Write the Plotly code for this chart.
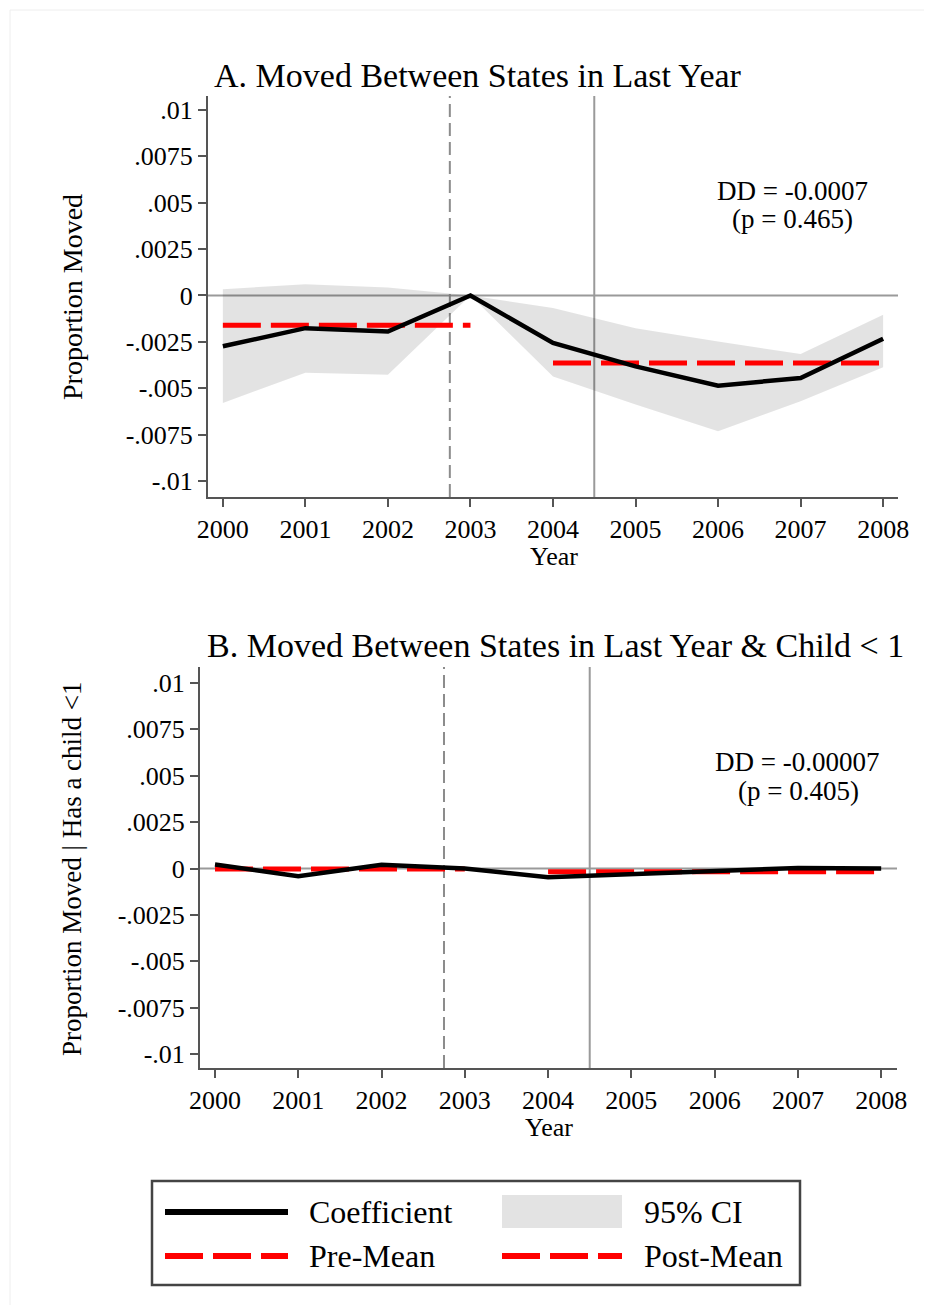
import plotly.graph_objects as go

# the page body adds an 8px margin around the figure, so the figure is made
# 16px smaller and every reference pixel position is shifted by that margin
PAGE_W, PAGE_H, BODY = 932, 1313, 8
W, H = PAGE_W - 2 * BODY, PAGE_H - 2 * BODY
FONT = "Liberation Serif"

years = [2000, 2001, 2002, 2003, 2004, 2005, 2006, 2007, 2008]
y_ticks = [0.01, 0.0075, 0.005, 0.0025, 0, -0.0025, -0.005, -0.0075, -0.01]
y_tick_labels = [".01", ".0075", ".005", ".0025", "0", "-.0025", "-.005", "-.0075", "-.01"]

# Panel A - moved between states
coef_a = [-0.00274, -0.00176, -0.00194, 0.0, -0.00256, -0.00382, -0.00486, -0.00445, -0.00233]
ci_hi_a = [0.00034, 0.00061, 0.00043, 0.0, -0.00068, -0.00176, -0.00248, -0.00316, -0.00104]
ci_lo_a = [-0.00579, -0.00417, -0.00427, 0.0, -0.00436, -0.00588, -0.00732, -0.00570, -0.00387]
pre_mean_a = -0.00161
post_mean_a = -0.00364
dd_a = "DD = -0.0007"
p_a = "(p = 0.465)"

# Panel B - moved between states & child < 1
coef_b = [0.00022, -0.00041, 0.00020, 0.0, -0.00047, -0.00029, -0.00011, 0.00003, 0.0]
ci_hi_b = [0.00027, -0.00036, 0.00025, 0.0, -0.00042, -0.00024, -0.00006, 0.00008, 0.00005]
ci_lo_b = [0.00017, -0.00046, 0.00015, 0.0, -0.00052, -0.00034, -0.00016, -0.00002, -0.00005]
pre_mean_b = -0.00003
post_mean_b = -0.00018
dd_b = "DD = -0.00007"
p_b = "(p = 0.405)"

pre_years = [2000, 2003]
post_years = [2004, 2008]
announce_year = 2002.75
policy_year = 2004.5

RED_DASH = "38px,10px"


def px_x(v):
    return (v - BODY) / W


def px_y(v):
    return 1 - (v - BODY) / H


def add_panel(fig, n, coef, ci_hi, ci_lo, pre_mean, post_mean):
    xa, ya = ("x", "y") if n == 1 else ("x2", "y2")
    # 95% CI band
    fig.add_trace(go.Scatter(
        x=years + years[::-1], y=ci_hi + ci_lo[::-1],
        fill="toself", fillcolor="rgba(0,0,0,0.11)", line=dict(width=0),
        mode="lines", xaxis=xa, yaxis=ya, showlegend=False, hoverinfo="skip"))
    # pre / post means
    fig.add_trace(go.Scatter(
        x=pre_years, y=[pre_mean, pre_mean], mode="lines",
        line=dict(color="#ff0000", width=5, dash=RED_DASH),
        xaxis=xa, yaxis=ya, showlegend=False))
    fig.add_trace(go.Scatter(
        x=post_years, y=[post_mean, post_mean], mode="lines",
        line=dict(color="#ff0000", width=5, dash=RED_DASH),
        xaxis=xa, yaxis=ya, showlegend=False))
    # coefficient
    fig.add_trace(go.Scatter(
        x=years, y=coef, mode="lines",
        line=dict(color="black", width=4.5),
        xaxis=xa, yaxis=ya, showlegend=False))
    # zero line and event lines
    fig.add_shape(type="line", xref=xa + " domain", yref=ya, x0=0, x1=1, y0=0, y1=0,
                  line=dict(color="#9a9a9a", width=2), layer="below")
    fig.add_shape(type="line", xref=xa, yref=ya + " domain", x0=announce_year, x1=announce_year,
                  y0=0, y1=1, line=dict(color="#8c8c8c", width=2, dash="13px,6px"), layer="below")
    fig.add_shape(type="line", xref=xa, yref=ya + " domain", x0=policy_year, x1=policy_year,
                  y0=0, y1=1, line=dict(color="#9a9a9a", width=2), layer="below")


fig = go.Figure()
add_panel(fig, 1, coef_a, ci_hi_a, ci_lo_a, pre_mean_a, post_mean_a)
add_panel(fig, 2, coef_b, ci_hi_b, ci_lo_b, pre_mean_b, post_mean_b)

axis_common = dict(showline=True, linecolor="#555555", linewidth=2, ticks="outside",
                   ticklen=8, tickwidth=2, tickcolor="#555555", showgrid=False,
                   zeroline=False, automargin=False, tickfont=dict(size=26, color="black"))

fig.update_layout(
    width=W, height=H,
    margin=dict(l=0, r=0, t=0, b=0, pad=0),
    paper_bgcolor="white", plot_bgcolor="white",
    font=dict(family=FONT, color="black"),
    xaxis=dict(domain=[px_x(208), px_x(898)], range=[1999.82, 2008.18], anchor="y",
               tickvals=years, **axis_common),
    yaxis=dict(domain=[px_y(497), px_y(96)], range=[-0.01086, 0.01075], anchor="x",
               tickvals=y_ticks, ticktext=y_tick_labels, **axis_common),
    xaxis2=dict(domain=[px_x(200), px_x(897)], range=[1999.82, 2008.19], anchor="y2",
                tickvals=years, **axis_common),
    yaxis2=dict(domain=[px_y(1068), px_y(667)], range=[-0.01075, 0.01086], anchor="x2",
                tickvals=y_ticks, ticktext=y_tick_labels, **axis_common),
)


def note(text, x, y, size, angle=0, xanchor="center"):
    fig.add_annotation(text=text, x=px_x(x), y=px_y(y), xref="paper", yref="paper",
                       showarrow=False, textangle=angle, xanchor=xanchor, yanchor="middle",
                       font=dict(size=size, family=FONT, color="black"))


# titles, axis titles, DD notes
note("A. Moved Between States in Last Year", 478, 76, 34)
note("B. Moved Between States in Last Year &amp; Child &lt; 1", 555, 646, 34)
note("Proportion Moved", 72, 297, 28, angle=-90)
note("Proportion Moved | Has a child &lt;1", 72, 869, 27, angle=-90)
note("Year", 554, 557, 26)
note("Year", 549, 1127, 26)
note(dd_a, 792, 191, 27)
note(p_a, 792, 219, 27)
note(dd_b, 797, 762, 27)
note(p_b, 798, 791, 27)

# legend drawn by hand (two columns)
fig.add_shape(type="rect", xref="paper", yref="paper", x0=px_x(152), x1=px_x(800),
              y0=px_y(1285), y1=px_y(1181), line=dict(color="#444444", width=2.5))
fig.add_shape(type="line", xref="paper", yref="paper", x0=px_x(165), x1=px_x(288),
              y0=px_y(1212), y1=px_y(1212), line=dict(color="black", width=6))
fig.add_shape(type="rect", xref="paper", yref="paper", x0=px_x(502), x1=px_x(622),
              y0=px_y(1228), y1=px_y(1195), line=dict(width=0), fillcolor="#e3e3e3")
for x0, x1 in [(165, 288), (502, 622)]:
    fig.add_shape(type="line", xref="paper", yref="paper", x0=px_x(x0), x1=px_x(x1),
                  y0=px_y(1256), y1=px_y(1256),
                  line=dict(color="#ff0000", width=6, dash=RED_DASH))
note("Coefficient", 307, 1212, 32, xanchor="left")
note("95% CI", 642, 1212, 32, xanchor="left")
note("Pre-Mean", 307, 1256, 32, xanchor="left")
note("Post-Mean", 642, 1256, 32, xanchor="left")

# faint outer frame (top and left edges only)
fig.add_shape(type="line", xref="paper", yref="paper", x0=px_x(10), x1=1.0,
              y0=px_y(10), y1=px_y(10), line=dict(color="#eeeeee", width=1))
fig.add_shape(type="line", xref="paper", yref="paper", x0=px_x(10), x1=px_x(10),
              y0=0.0, y1=px_y(10), line=dict(color="#eeeeee", width=1))

fig.write_html("out.html")
